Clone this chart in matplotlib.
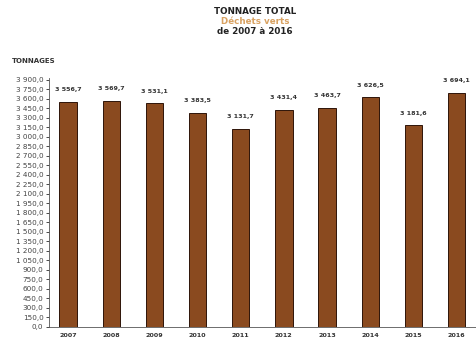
import matplotlib.pyplot as plt
import numpy as np

annees = ['2007', '2008', '2009', '2010', '2011', '2012', '2013', '2014', '2015', '2016']
tonnages = [3556.7, 3569.7, 3531.1, 3383.5, 3131.7, 3431.4, 3463.7, 3626.5, 3181.6, 3694.1]
graduations = np.arange(0, 3901, 150)


def fr(v):
    # format francais : espace pour les milliers, virgule decimale
    s = f'{v:,.1f}'.replace(',', ' ').replace('.', ',')
    return s


fig = plt.figure(figsize=(4.76, 3.44), dpi=100)
ax = fig.add_axes([49 / 476, 17 / 344, 427 / 476, 249 / 344])

x = np.arange(len(annees))
ax.bar(x, tonnages, width=0.4, color='#8a4a1f', edgecolor='#2e1408', linewidth=0.7)

for xi, v in zip(x, tonnages):
    ax.text(xi, v + 150, fr(v), ha='center', va='bottom', fontsize=4.6,
            color='#333333', fontweight='bold')

ax.set_xlim(-0.44, 9.45)
ax.set_ylim(0, 3930)
ax.set_yticks(graduations)
ax.set_yticklabels([fr(g) for g in graduations], fontsize=5.2, color='#444444')
ax.set_xticks(x)
ax.set_xticklabels(annees, fontsize=4.6, fontweight='bold', color='#333333')
ax.tick_params(axis='y', length=2, width=0.5, pad=2)
ax.tick_params(axis='x', length=0, pad=4)

for s in ['top', 'right']:
    ax.spines[s].set_visible(False)
ax.spines['left'].set_linewidth(0.6)
ax.spines['bottom'].set_linewidth(0.6)
ax.spines['left'].set_color('#555555')
ax.spines['bottom'].set_color('#555555')

fig.text(255 / 476, 1 - 12 / 344, 'TONNAGE TOTAL', ha='center', va='center',
         fontsize=6.3, fontweight='bold', color='#222222')
fig.text(255 / 476, 1 - 22 / 344, 'Déchets verts', ha='center', va='center',
         fontsize=6.3, fontweight='bold', color='#d9a262')
fig.text(255 / 476, 1 - 32 / 344, 'de 2007 à 2016', ha='center', va='center',
         fontsize=6.3, fontweight='bold', color='#222222')
fig.text(12 / 476, 1 - 61 / 344, 'TONNAGES', ha='left', va='center',
         fontsize=5, fontweight='bold', color='#333333')

fig.savefig('out.png', dpi=100)
